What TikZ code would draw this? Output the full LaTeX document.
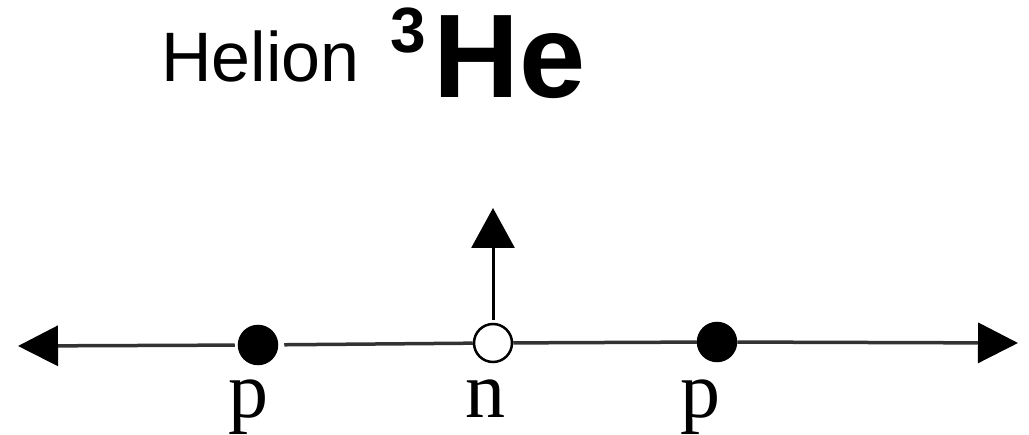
\documentclass[tikz,border=0pt]{standalone}
\usepackage{fontspec}
\setmainfont{Liberation Serif}
\newfontfamily\arialf{Liberation Sans}
\usetikzlibrary{arrows.meta}
\begin{document}
\begin{tikzpicture}[x=1pt,y=-1pt,
  particle/.style={circle,draw=black,line width=2.5pt,minimum size=38pt,inner sep=0pt},
  proton/.style={particle,fill=black},
  neutron/.style={particle,fill=white},
  axis/.style={draw=black!80,line width=3.5pt},
  hhead/.style={-{Triangle[length=40pt,width=40pt,color=black,fill=black]}},
  vhead/.style={line width=3pt,draw=black,-{Triangle[length=40pt,width=43pt]}},
  lbl/.style={anchor=base,inner sep=0pt,font=\fontsize{80}{80}\selectfont}
]
\useasboundingbox (0,0) rectangle (1029,435);
\node[anchor=base west,inner sep=0pt,font=\arialf\fontsize{70}{70}\selectfont] (title) at (161,82) {Helion};
\node[anchor=base west,inner sep=0pt,font=\arialf\bfseries\fontsize{64}{64}\selectfont] (mass) at (390,53) {3};
\node[anchor=base west,inner sep=0pt,font=\arialf\bfseries\fontsize{119}{119}\selectfont] (sym) at (433,98) {He};

\coordinate (L) at (18,346);
\coordinate (R) at (1018,343);
\coordinate (U) at (493,208);
\node[proton] (p1) at (258,345) {};
\node[neutron] (n) at (493,343) {};
\node[proton] (p2) at (717,342) {};

\draw[axis,hhead,shorten <=3pt] (p1) -- (L);
\draw[axis,shorten <=6pt] (p1) -- (n);
\draw[axis] (n) -- (p2);
\draw[axis,hhead] (p2) -- (R);
\draw[vhead,shorten <=3pt] (n) -- (U);

\node[lbl] (lp1) at (248,418) {p};
\node[lbl] (ln) at (485,418) {n};
\node[lbl] (lp2) at (700,418) {p};
\end{tikzpicture}
\end{document}
